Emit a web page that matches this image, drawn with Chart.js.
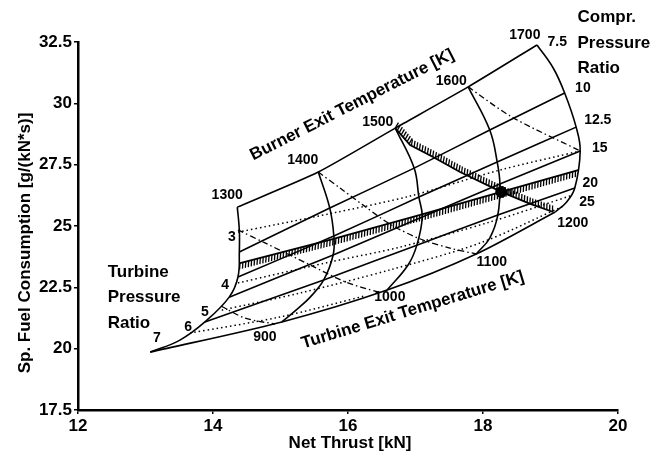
<!DOCTYPE html>
<html>
<head>
<meta charset="utf-8">
<script src="https://cdn.jsdelivr.net/npm/chart.js@4.4.0/dist/chart.umd.min.js"></script>
<style>
  body { margin: 0; background: #fff; }
  canvas { display: block; }
</style>
</head>
<body>
<canvas id="carpet" width="653" height="459"></canvas>
<script>
// axis ticks
const xTicks = [12, 14, 16, 18, 20];
const yTicks = [17.5, 20, 22.5, 25, 27.5, 30, 32.5];

// compressor pressure ratio lines, [thrust kN, sfc g/(kN*s)] at BET 1300..1700
const cpr75 = [[14.36, 25.77], [15.56, 27.20], [16.70, 28.99], [17.78, 30.67], [18.80, 32.38]];
const cpr10 = [[14.39, 23.94], [15.73, 25.73], [16.98, 27.36], [18.10, 28.91], [19.21, 30.42]];
const cpr125 = [[14.37, 22.92], [15.79, 24.59], [17.05, 26.18], [18.21, 27.61], [19.38, 29.03]];
const cpr15 = [[14.24, 22.10], [15.78, 23.82], [17.10, 25.37], [18.25, 26.71], [19.44, 28.06]];
const cpr20 = [[13.88, 21.09], [15.64, 22.80], [17.02, 24.22], [18.22, 25.45], [19.36, 26.55]];
const cpr25 = [[13.07, 19.86], [15.02, 21.09], [16.58, 22.39], [17.90, 23.86], [19.07, 25.57]];

// burner exit temperature lines
const bet1300 = [[14.36, 25.77], [14.39, 24.84], [14.39, 23.94], [14.37, 22.92], [14.24, 22.10], [13.88, 21.09], [13.51, 20.35], [13.07, 19.86]];
const bet1400 = [[15.56, 27.20], [15.73, 25.73], [15.79, 24.59], [15.78, 23.82], [15.64, 22.80], [15.44, 22.10], [15.23, 21.57], [15.02, 21.09]];
const bet1500 = [[16.70, 28.99], [16.98, 27.36], [17.05, 26.18], [17.10, 25.37], [17.02, 24.22], [16.89, 23.41], [16.58, 22.39]];
const bet1600 = [[17.78, 30.67], [18.10, 28.91], [18.21, 27.61], [18.25, 26.71], [18.22, 25.45], [18.10, 24.51], [17.90, 23.86]];
const bet1700 = [[18.80, 32.38], [19.04, 31.44], [19.21, 30.42], [19.38, 29.03], [19.44, 28.06], [19.36, 26.55], [19.24, 25.98], [19.07, 25.57]];

// turbine pressure ratio lines (dotted), hatched one is the limit
const tpr3 = [[14.37, 24.75], [15.78, 25.53], [16.92, 26.22], [18.25, 27.28], [19.44, 28.06]];
const tprLimit = [[14.40, 23.49], [15.73, 24.43], [17.07, 25.45], [18.27, 26.39], [19.41, 27.28]];
const tpr4 = [[14.37, 22.68], [15.73, 23.53], [16.77, 24.14], [18.10, 25.16], [19.33, 26.26]];
const tpr5 = [[14.13, 21.57], [15.29, 22.27], [16.62, 23.21], [17.96, 24.31], [19.19, 25.81]];
const tpr6 = [[13.66, 20.64], [14.99, 21.29], [16.25, 22.15]];

// turbine exit temperature lines (dash-dot), hatched one is the limit
const tet900 = [[14.12, 21.74], [14.47, 21.25], [14.92, 21.00]];
const tet1000 = [[14.37, 24.84], [14.77, 24.31], [15.44, 23.41], [15.96, 22.72], [16.44, 22.31]];
const tet1100 = [[15.56, 27.20], [15.88, 26.55], [16.22, 25.86], [16.62, 25.08], [17.07, 24.47], [17.51, 24.10], [17.90, 23.86]];
const tet1300 = [[17.78, 30.67], [18.43, 29.44], [19.44, 28.06]];
const tetLimit = [[16.70, 28.99], [16.92, 28.30], [17.26, 27.81], [17.66, 27.20], [18.27, 26.39], [18.70, 25.90], [19.04, 25.57]];

const designPoint = [[18.27, 26.39]];

// text annotations
const notes = [
  { text: '1300', x: 14.21, y: 26.26 },
  { text: '1400', x: 15.33, y: 27.69 },
  { text: '1500', x: 16.44, y: 29.24 },
  { text: '1600', x: 17.53, y: 30.91 },
  { text: '1700', x: 18.62, y: 32.79 },
  { text: '7.5', x: 19.10, y: 32.50 },
  { text: '10', x: 19.48, y: 30.63 },
  { text: '12.5', x: 19.70, y: 29.32 },
  { text: '15', x: 19.73, y: 28.18 },
  { text: '20', x: 19.59, y: 26.75 },
  { text: '25', x: 19.54, y: 25.98 },
  { text: '1200', x: 19.33, y: 25.12 },
  { text: '1100', x: 18.13, y: 23.53 },
  { text: '1000', x: 16.62, y: 22.10 },
  { text: '900', x: 14.77, y: 20.47 },
  { text: '3', x: 14.28, y: 24.55 },
  { text: '4', x: 14.18, y: 22.59 },
  { text: '5', x: 13.88, y: 21.49 },
  { text: '6', x: 13.63, y: 20.88 },
  { text: '7', x: 13.17, y: 20.43 }
];
const words = [
  { text: 'Turbine', x: 12.44, y: 23.12 },
  { text: 'Pressure', x: 12.44, y: 22.10 },
  { text: 'Ratio', x: 12.44, y: 21.05 },
  { text: 'Compr.', x: 19.40, y: 33.52 },
  { text: 'Pressure', x: 19.40, y: 32.46 },
  { text: 'Ratio', x: 19.40, y: 31.44 }
];
const slanted = [
  { text: 'Burner Exit Temperature [K]', x: 16.06, y: 29.93, angle: -27 },
  { text: 'Turbine Exit Temperature [K]', x: 16.96, y: 21.57, angle: -17 }
];

const FONT = '"Liberation Sans", Arial, sans-serif';
const toPts = arr => arr.map(p => ({ x: p[0], y: p[1] }));

function solid(data, tension) {
  return { data: toPts(data), showLine: true, pointRadius: 0, borderColor: '#000', borderWidth: 1.6, tension: tension };
}
function dotted(data) {
  return { data: toPts(data), showLine: true, pointRadius: 0, borderColor: '#000', borderWidth: 1.5, borderDash: [1.5, 3], tension: 0.3 };
}
function dashDot(data) {
  return { data: toPts(data), showLine: true, pointRadius: 0, borderColor: '#000', borderWidth: 1.3, borderDash: [6, 3, 1.5, 3], tension: 0.3 };
}
function hatched(data, side) {
  const ds = solid(data, 0);
  ds.borderWidth = 1.8;
  ds.hatchSide = side;
  return ds;
}

// short slanted strokes along one side of a limit line
const hatchPlugin = {
  id: 'hatch',
  afterDatasetsDraw(chart) {
    const ctx = chart.ctx;
    ctx.save();
    ctx.strokeStyle = '#000';
    ctx.lineWidth = 1.3;
    chart.data.datasets.forEach((ds, i) => {
      if (!ds.hatchSide) return;
      const pts = chart.getDatasetMeta(i).data;
      let carry = 0;
      for (let k = 1; k < pts.length; k++) {
        const a = pts[k - 1], b = pts[k];
        const dx = b.x - a.x, dy = b.y - a.y;
        const len = Math.hypot(dx, dy);
        const tx = dx / len, ty = dy / len;
        const nx = -ty * ds.hatchSide, ny = tx * ds.hatchSide;
        for (let s = carry; s < len; s += 3) {
          const px = a.x + tx * s, py = a.y + ty * s;
          ctx.beginPath();
          ctx.moveTo(px, py);
          ctx.lineTo(px + nx * 6 - tx * 2, py + ny * 6 - ty * 2);
          ctx.stroke();
          carry = s + 3 - len;
        }
      }
    });
    ctx.restore();
  }
};

const textPlugin = {
  id: 'carpetText',
  afterDraw(chart) {
    const { ctx, scales: { x, y } } = chart;
    ctx.save();
    ctx.fillStyle = '#000';
    ctx.textBaseline = 'middle';

    ctx.font = 'bold 14px ' + FONT;
    ctx.textAlign = 'center';
    notes.forEach(n => ctx.fillText(n.text, x.getPixelForValue(n.x), y.getPixelForValue(n.y)));

    ctx.font = 'bold 17px ' + FONT;
    ctx.textAlign = 'left';
    words.forEach(n => ctx.fillText(n.text, x.getPixelForValue(n.x), y.getPixelForValue(n.y)));

    ctx.textAlign = 'center';
    slanted.forEach(n => {
      ctx.save();
      ctx.translate(x.getPixelForValue(n.x), y.getPixelForValue(n.y));
      ctx.rotate(n.angle * Math.PI / 180);
      ctx.fillText(n.text, 0, 0);
      ctx.restore();
    });

    // axis titles
    ctx.fillText('Net Thrust [kN]', 350, 443);
    ctx.save();
    ctx.translate(25, 243);
    ctx.rotate(-Math.PI / 2);
    ctx.fillText('Sp. Fuel Consumption [g/(kN*s)]', 0, 0);
    ctx.restore();
    ctx.restore();
  }
};

new Chart(document.getElementById('carpet'), {
  type: 'scatter',
  data: {
    datasets: [
      solid(cpr75, 0.2), solid(cpr10, 0.2), solid(cpr125, 0.2), solid(cpr15, 0.2), solid(cpr20, 0.2), solid(cpr25, 0.3),
      solid(bet1300, 0.4), solid(bet1400, 0.4), solid(bet1500, 0.4), solid(bet1600, 0.4), solid(bet1700, 0.4),
      dotted(tpr3), dotted(tpr4), dotted(tpr5), dotted(tpr6),
      dashDot(tet900), dashDot(tet1000), dashDot(tet1100), dashDot(tet1300),
      hatched(tprLimit, 1),
      hatched(tetLimit, -1),
      { data: toPts(designPoint), pointRadius: 5.5, pointBackgroundColor: '#000', pointBorderColor: '#000' }
    ]
  },
  options: {
    responsive: false,
    animation: false,
    devicePixelRatio: 1,
    layout: { padding: { left: 0, top: 42, right: 35, bottom: 0 } },
    plugins: { legend: { display: false }, tooltip: { enabled: false } },
    scales: {
      x: {
        type: 'linear', min: 12, max: 20,
        afterBuildTicks: s => { s.ticks = xTicks.map(v => ({ value: v })); },
        afterFit: s => { s.height = 49; },
        ticks: { color: '#000', padding: 2, font: { family: FONT, size: 17, weight: 'bold' } },
        grid: { display: true, drawOnChartArea: false, drawTicks: true, tickLength: 4, color: '#000', lineWidth: 1.5 },
        border: { color: '#000', width: 2.5 }
      },
      y: {
        type: 'linear', min: 17.5, max: 32.5,
        afterBuildTicks: s => { s.ticks = yTicks.map(v => ({ value: v })); },
        afterFit: s => { s.width = 78; },
        ticks: { color: '#000', padding: 2, font: { family: FONT, size: 17, weight: 'bold' } },
        grid: { display: true, drawOnChartArea: false, drawTicks: true, tickLength: 4, color: '#000', lineWidth: 1.5 },
        border: { color: '#000', width: 2.5 }
      }
    }
  },
  plugins: [hatchPlugin, textPlugin]
});
</script>
</body>
</html>
